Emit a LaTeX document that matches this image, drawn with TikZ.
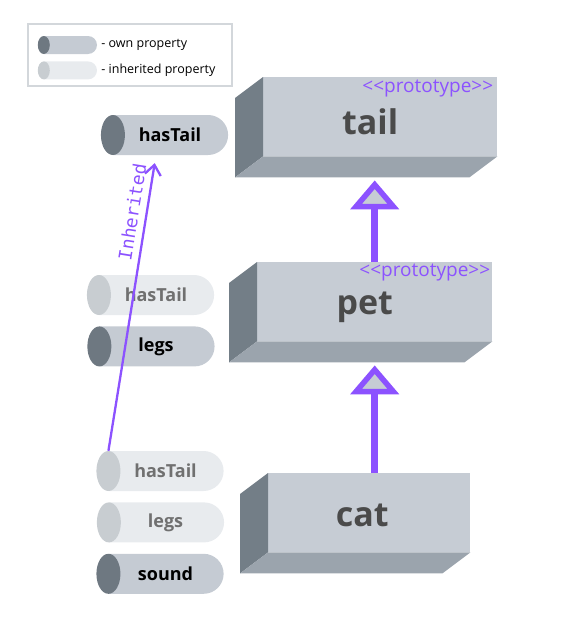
\documentclass[tikz,border=0pt]{standalone}
\usepackage{fontspec}
\setmainfont{Open Sans}
\newfontfamily\inhfont{DejaVu Sans Mono}
\usetikzlibrary{positioning,arrows.meta,shapes.misc}
\definecolor{boxfront}{HTML}{C6CCD4}
\definecolor{boxside}{HTML}{737E87}
\definecolor{boxbottom}{HTML}{9BA4AD}
\definecolor{ownbody}{HTML}{C5CBD3}
\definecolor{owncap}{HTML}{6E7881}
\definecolor{inhbody}{HTML}{E8EBEE}
\definecolor{inhcap}{HTML}{C8CDD1}
\definecolor{inhtext}{HTML}{707070}
\definecolor{protopurple}{HTML}{8C52FF}
\definecolor{nametext}{HTML}{4A4A4A}
\definecolor{legendline}{HTML}{D3D7DB}

\begin{document}
\begin{tikzpicture}[x=1pt,y=-1pt,
	pill/.style={rounded rectangle, rounded rectangle left arc=none, minimum width=115pt, minimum height=40pt, inner sep=0pt, font=\fontsize{18}{20}\selectfont\bfseries},
	own/.style={pill, fill=ownbody},
	inh/.style={pill, fill=inhbody, text=inhtext},
	smallpill/.style={rounded rectangle, rounded rectangle left arc=none, minimum width=53pt, minimum height=18pt, inner sep=0pt},
	front/.style={fill=boxfront, minimum height=79pt, inner sep=0pt, anchor=north west},
	boxname/.style={font=\fontsize{34}{37}\selectfont\bfseries, text=nametext},
	stereo/.style={font=\fontsize{19}{21}\selectfont, text=protopurple, anchor=east, inner sep=0pt},
	proto/.style={draw=protopurple, line width=6.5pt, -{Triangle[length=29pt, width=48pt, line width=5.5pt, fill=boxfront]}},
	inhline/.style={draw=protopurple, line width=2.3pt, -{Straight Barb[length=10pt, width=16pt]}, shorten >=8pt},
	legtext/.style={font=\fontsize{12.5}{14}\selectfont, inner sep=0pt}]
	\useasboundingbox (0,0) rectangle (560,621);

	%%legend
	\node[draw=legendline, line width=1.2pt, minimum width=204pt, minimum height=62pt] (legend) at (130,55) {};
	\node[smallpill, fill=ownbody] (legown) at (70.5,45) {};
	\node[smallpill, fill=inhbody, below=7pt of legown] (leginh) {};
	\fill[owncap] (legown.west) ellipse (6 and 9);
	\fill[inhcap] (leginh.west) ellipse (6 and 9);
	\node[legtext, right=4pt of legown] (legowntext) {- own property};
	\node[legtext, right=4pt of leginh] (leginhtext) {- inherited property};

	%%objects
	\node[front, minimum width=234pt] (tail) at (263,77) {};
	\node[front, minimum width=235pt] (pet) at (257,262) {};
	\node[front, minimum width=202pt] (cat) at (268,473) {};
	\foreach \b in {tail,pet,cat}{
		\fill[boxside] (\b.north west) -- (\b.south west) -- ++(-28,21) -- ([shift={(-28,21)}]\b.north west) -- cycle;
		\fill[boxbottom] (\b.south west) -- (\b.south east) -- ++(-28,21) -- ([shift={(-28,21)}]\b.south west) -- cycle;
	}
	\node[boxname] (tailname) at ([shift={(-10,5)}]tail.center) {tail};
	\node[boxname] (petname) at ([shift={(-10,6)}]pet.center) {pet};
	\node[boxname] (catname) at ([shift={(-7,3)}]cat.center) {cat};
	\node[stereo] (tailstereo) at ([shift={(-4,12)}]tail.north east) {<{}<prototype>{}>};
	\node[stereo] (petstereo) at ([shift={(-2,11)}]pet.north east) {<{}<prototype>{}>};

	%%properties
	\node[own] (tailhas) at (170,135) {hasTail};
	\node[inh] (pethas) at (156,295) {hasTail};
	\node[own, below=11pt of pethas] (petlegs) {legs};
	\node[inh] (cathas) at (165.5,471) {hasTail};
	\node[inh, below=11pt of cathas] (catlegs) {legs};
	\node[own, below=11pt of catlegs] (catsound) {sound};
	\foreach \p in {tailhas,petlegs,catsound}
		\fill[owncap] (\p.west) ellipse (12 and 20);
	\foreach \p in {pethas,cathas,catlegs}
		\fill[inhcap] (\p.west) ellipse (12 and 20);

	%%arrows
	\coordinate (tailfloor) at ([yshift=-24pt]tail.south);
	\coordinate (petfloor) at ([yshift=-24pt]pet.south);
	\draw[proto] (pet.north) -- (pet.north |- tailfloor);
	\draw[proto] (cat.north -| pet.north) -- (pet.north |- petfloor);
	\draw[inhline] (cathas.west |- cathas.north) -- ([xshift=-14pt]tailhas.south)
		node[pos=0.8, sloped, above=3pt, font=\inhfont\fontsize{18}{20}\selectfont, text=protopurple] (inhlabel) {Inherited};
\end{tikzpicture}
\end{document}
